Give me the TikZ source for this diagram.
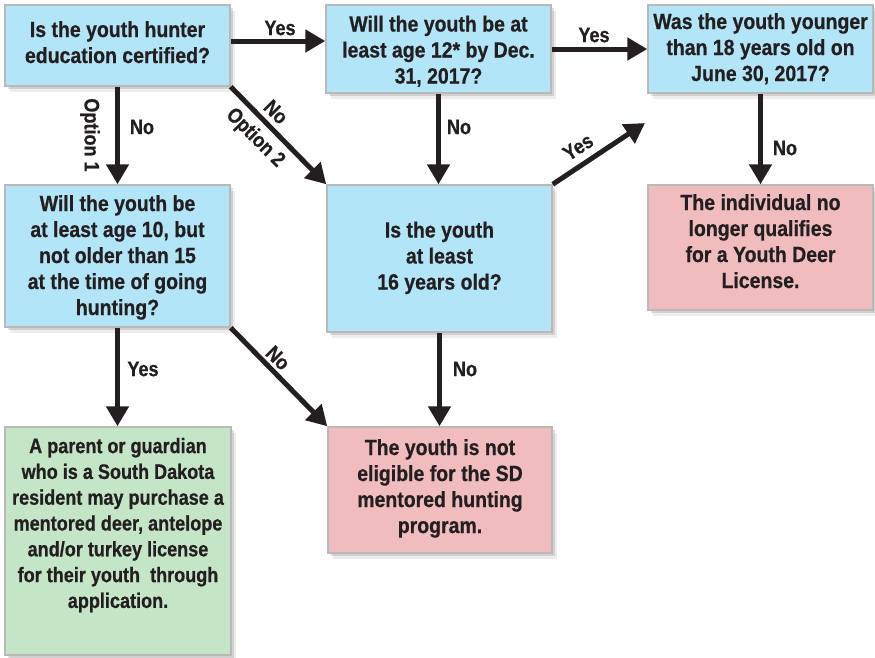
\documentclass[tikz,border=0pt]{standalone}
\usepackage{fontspec}
\setmainfont{Liberation Sans}[FakeStretch=0.885, BoldFeatures={FakeBold=0.6}]
\newfontfamily\condfont{Liberation Sans}[FakeStretch=0.86, BoldFeatures={FakeBold=0.6}]
\usetikzlibrary{arrows.meta,shadows}
\definecolor{boxblue}{RGB}{178,229,248}
\definecolor{boxpink}{RGB}{241,188,190}
\definecolor{boxgreen}{RGB}{197,229,199}
\definecolor{boxedge}{RGB}{185,185,185}
\definecolor{ink}{RGB}{35,31,32}
\newcommand\mytop{\rule{0pt}{17pt}}
\newcommand\mybot{\rule[-5pt]{0pt}{5pt}}
\tikzset{
  box/.style={rectangle, draw=boxedge, line width=1.5pt, inner sep=0pt,
    drop shadow={shadow xshift=4.5pt, shadow yshift=-5.5pt, fill=black, opacity=0.07},
    drop shadow={shadow xshift=2.5pt, shadow yshift=-3pt, fill=black, opacity=0.12}},
  qbox/.style={box, fill=boxblue},
  pbox/.style={box, fill=boxpink},
  gbox/.style={box, fill=boxgreen},
  txt/.style={text=ink, align=center, inner sep=0pt,
    font=\bfseries\fontsize{22}{26}\selectfont},
  gtxt/.style={text=ink, align=center, inner sep=0pt,
    font=\condfont\bfseries\fontsize{21}{25.8}\selectfont},
  arr/.style={draw=ink, line width=5pt, -{Triangle[length=20pt,width=22pt]}},
  lbl/.style={text=ink, inner sep=1pt, font=\condfont\bfseries\fontsize{21}{22}\selectfont},
}
\begin{document}
\begin{tikzpicture}[x=1pt,y=-1pt]
\useasboundingbox (0,0) rectangle (875,657);
% boxes
\node[qbox, minimum width=225pt, minimum height=81pt]  (A) at (117.5,45.5) {};
\node[qbox, minimum width=225pt, minimum height=88pt]  (B) at (438.5,49) {};
\node[qbox, minimum width=225pt, minimum height=88pt]  (C) at (760.5,49) {};
\node[qbox, minimum width=225pt, minimum height=147pt] (D) at (439.5,258.5) {};
\node[pbox, minimum width=225pt, minimum height=125pt] (E) at (760.5,247.5) {};
\node[qbox, minimum width=225pt, minimum height=142pt] (F) at (117.5,256) {};
\node[gbox, minimum width=226pt, minimum height=228pt] (G) at (118,541) {};
\node[pbox, minimum width=224pt, minimum height=126pt] (H) at (440,490) {};
% texts
\node[txt] (At) at (117.5,44) {\mytop Is the youth hunter\\education certified?\mybot};
\node[txt] (Bt) at (438.5,51.5) {\mytop Will the youth be at\\least age 12* by Dec.\\31, 2017?\mybot};
\node[txt] (Ct) at (760.5,49) {\mytop Was the youth younger\\than 18 years old on\\June 30, 2017?\mybot};
\node[txt] (Dt) at (439.5,257.5) {\mytop Is the youth\\at least\\16 years old?\mybot};
\node[txt] (Et) at (760.5,243) {\mytop The individual no\\longer qualifies\\for a Youth Deer\\License.\mybot};
\node[txt] (Ft) at (117.5,257) {\mytop Will the youth be\\at least age 10, but\\not older than 15\\at the time of going\\hunting?\mybot};
\node[gtxt] (Gt) at (118,524.5) {\mytop A parent or guardian\\who is a South Dakota\\resident may purchase a\\mentored deer, antelope\\and/or turkey license\\for their youth\ \ through\\application.\mybot};
\node[txt] (Ht) at (440,488) {\mytop The youth is not\\eligible for the SD\\mentored hunting\\program.\mybot};
% helper coordinates
\coordinate (yAB) at (0,41);
\coordinate (DCend) at (645,123);
% connectors
\draw[arr] (A.east |- yAB) -- (B.west |- yAB);
\draw[arr] (B.east) -- (C.west);
\draw[arr] (A.south) -- (F.north);
\draw[arr] (A.south east) -- (D.north west);
\draw[arr] (B.south) -- (B.south |- D.north);
\draw[arr] (D.north east) -- (DCend);
\draw[arr] (C.south) -- (E.north);
\draw[arr] (F.south) -- (F.south |- G.north);
\draw[arr] (F.south east) -- (H.north west);
\draw[arr] (D.south) -- (D.south |- H.north);
% labels
\node[lbl] (lAB) at (280,28) {Yes};
\node[lbl] (lBC) at (594,35) {Yes};
\node[lbl] (lAF) at (142,127) {No};
\node[lbl, rotate=-90] (lOp1) at (90,135) {Option 1};
\node[lbl, rotate=-45] (lAD) at (276,112) {No};
\node[lbl, rotate=-45] (lOp2) at (255,138) {Option 2};
\node[lbl] (lBD) at (459,127) {No};
\node[lbl, rotate=33] (lDC) at (578,147) {Yes};
\node[lbl] (lCE) at (785,148) {No};
\node[lbl] (lFG) at (143,369) {Yes};
\node[lbl, rotate=-45] (lFH) at (278,358) {No};
\node[lbl] (lDH) at (465,369) {No};
\end{tikzpicture}
\end{document}
